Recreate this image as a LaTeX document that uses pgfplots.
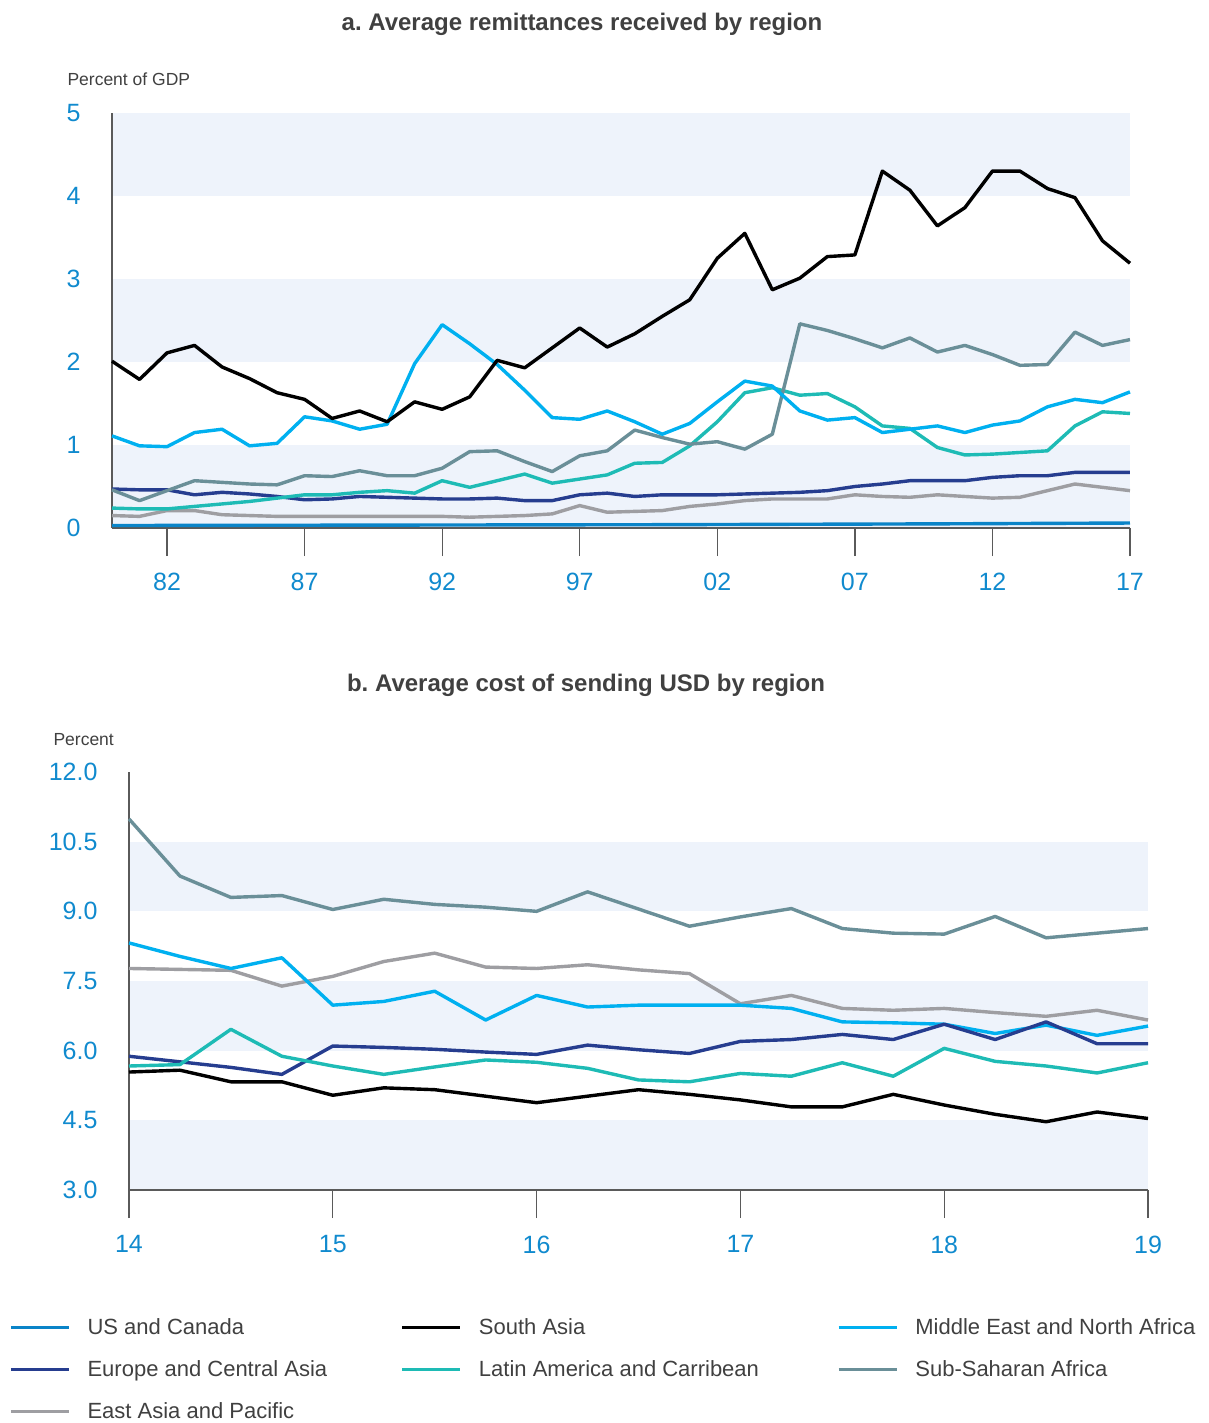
\documentclass[border=0pt]{standalone}
\usepackage{fontspec}
\setmainfont{Liberation Sans}
\usepackage{pgfplots}
\pgfplotsset{compat=1.18}
\pgfplotsset{set layers}
\frenchspacing

\definecolor{usc}{RGB}{10,132,200}
\definecolor{sas}{RGB}{0,0,0}
\definecolor{mena}{RGB}{0,176,240}
\definecolor{eca}{RGB}{38,61,143}
\definecolor{lac}{RGB}{30,187,181}
\definecolor{ssa}{RGB}{106,143,152}
\definecolor{eap}{RGB}{158,158,162}
\definecolor{band}{RGB}{238,243,251}
\definecolor{tickblue}{RGB}{16,138,206}
\definecolor{txt}{RGB}{64,64,64}
\definecolor{axgray}{RGB}{90,90,90}

\pgfplotsset{mystyle/.style={
  scale only axis,
  clip=false,
  axis x line=bottom, axis y line=left,
  axis line style={-, draw=axgray, line width=1.3pt},
  tick align=outside,
  major tick length=28pt,
  xtick style={draw=axgray, line width=1.3pt},
  ytick style={draw=none},
  tick label style={font=\fontsize{25}{30}\selectfont, color=tickblue},
  /pgf/number format/assume math mode=true,
  xticklabel style={yshift=-14pt},
  every axis plot/.append style={line width=3.4pt, line join=round, mark=none},
}}

\begin{document}
\begin{tikzpicture}

% titles and unit labels
\node[anchor=base, font=\bfseries\fontsize{24}{28}\selectfont, text=txt] at (582pt,-31pt) {a. Average remittances received by region};
\node[anchor=base west, font=\fontsize{17.5}{21}\selectfont, text=txt] at (64pt,-86pt) {Percent of GDP};
\node[anchor=base, font=\bfseries\fontsize{24}{28}\selectfont, text=txt] at (586pt,-691pt) {b. Average cost of sending USD by region};
\node[anchor=base west, font=\fontsize{17.5}{21}\selectfont, text=txt] at (50pt,-745pt) {Percent};

% ---------------- panel a ----------------
\begin{axis}[mystyle,
  at={(112pt,-528pt)}, anchor=south west,
  width=1018pt, height=415pt,
  xmin=1980, xmax=2017, ymin=0, ymax=5,
  xtick={1982,1987,1992,1997,2002,2007,2012,2017},
  xticklabels={82,87,92,97,02,07,12,17},
  ytick={0,1,2,3,4,5},
]
\begin{pgfonlayer}{axis background}
\fill[band] (axis cs:1980,0) rectangle (axis cs:2017,1);
\fill[band] (axis cs:1980,2) rectangle (axis cs:2017,3);
\fill[band] (axis cs:1980,4) rectangle (axis cs:2017,5);
\end{pgfonlayer}
% US and Canada
\addplot[usc] table {
1980 0.03
1990 0.035
2000 0.04
2010 0.05
2017 0.06
};
% East Asia and Pacific
\addplot[eap] table {
1980 0.15
1981 0.14
1982 0.21
1983 0.21
1984 0.16
1985 0.15
1986 0.14
1987 0.14
1988 0.14
1989 0.14
1990 0.14
1991 0.14
1992 0.14
1993 0.13
1994 0.14
1995 0.15
1996 0.17
1997 0.27
1998 0.19
1999 0.20
2000 0.21
2001 0.26
2002 0.29
2003 0.33
2004 0.35
2005 0.35
2006 0.35
2007 0.40
2008 0.38
2009 0.37
2010 0.40
2011 0.38
2012 0.36
2013 0.37
2014 0.45
2015 0.53
2016 0.49
2017 0.45
};
% Europe and Central Asia
\addplot[eca] table {
1980 0.47
1981 0.46
1982 0.46
1983 0.40
1984 0.43
1985 0.41
1986 0.38
1987 0.34
1988 0.35
1989 0.38
1990 0.37
1991 0.36
1992 0.35
1993 0.35
1994 0.36
1995 0.33
1996 0.33
1997 0.40
1998 0.42
1999 0.38
2000 0.40
2001 0.40
2002 0.40
2003 0.41
2004 0.42
2005 0.43
2006 0.45
2007 0.50
2008 0.53
2009 0.57
2010 0.57
2011 0.57
2012 0.61
2013 0.63
2014 0.63
2015 0.67
2016 0.67
2017 0.67
};
% Latin America and Carribean
\addplot[lac] table {
1980 0.24
1981 0.23
1982 0.23
1983 0.26
1984 0.29
1985 0.32
1986 0.36
1987 0.40
1988 0.40
1989 0.43
1990 0.45
1991 0.42
1992 0.57
1993 0.49
1994 0.57
1995 0.65
1996 0.54
1997 0.59
1998 0.64
1999 0.78
2000 0.79
2001 0.99
2002 1.28
2003 1.63
2004 1.69
2005 1.60
2006 1.62
2007 1.46
2008 1.23
2009 1.20
2010 0.97
2011 0.88
2012 0.89
2013 0.91
2014 0.93
2015 1.23
2016 1.40
2017 1.38
};
% Sub-Saharan Africa
\addplot[ssa] table {
1980 0.46
1981 0.33
1982 0.45
1983 0.57
1984 0.55
1985 0.53
1986 0.52
1987 0.63
1988 0.62
1989 0.69
1990 0.63
1991 0.63
1992 0.72
1993 0.92
1994 0.93
1995 0.80
1996 0.68
1997 0.87
1998 0.93
1999 1.18
2000 1.09
2001 1.01
2002 1.04
2003 0.95
2004 1.13
2005 2.46
2006 2.38
2007 2.28
2008 2.17
2009 2.29
2010 2.12
2011 2.20
2012 2.09
2013 1.96
2014 1.97
2015 2.36
2016 2.20
2017 2.27
};
% Middle East and North Africa
\addplot[mena] table {
1980 1.11
1981 0.99
1982 0.98
1983 1.15
1984 1.19
1985 0.99
1986 1.02
1987 1.34
1988 1.29
1989 1.19
1990 1.25
1991 1.98
1992 2.45
1993 2.22
1994 1.97
1995 1.66
1996 1.33
1997 1.31
1998 1.41
1999 1.28
2000 1.13
2001 1.26
2002 1.52
2003 1.77
2004 1.71
2005 1.41
2006 1.30
2007 1.33
2008 1.15
2009 1.19
2010 1.23
2011 1.15
2012 1.24
2013 1.29
2014 1.46
2015 1.55
2016 1.51
2017 1.64
};
% South Asia
\addplot[sas] table {
1980 2.01
1981 1.79
1982 2.11
1983 2.20
1984 1.94
1985 1.80
1986 1.63
1987 1.55
1988 1.32
1989 1.41
1990 1.28
1991 1.52
1992 1.43
1993 1.58
1994 2.02
1995 1.93
1996 2.17
1997 2.41
1998 2.18
1999 2.34
2000 2.55
2001 2.75
2002 3.25
2003 3.55
2004 2.87
2005 3.01
2006 3.27
2007 3.29
2008 4.30
2009 4.07
2010 3.64
2011 3.86
2012 4.30
2013 4.30
2014 4.09
2015 3.98
2016 3.46
2017 3.19
};
\end{axis}

% ---------------- panel b ----------------
\begin{axis}[mystyle,
  at={(129pt,-1190pt)}, anchor=south west,
  width=1019pt, height=418pt,
  xmin=14, xmax=19, ymin=3, ymax=12,
  xtick={14,15,16,17,18,19},
  ytick={3,4.5,6,7.5,9,10.5,12},
  yticklabel style={/pgf/number format/.cd, fixed, fixed zerofill, precision=1},
  legend columns=3,
  legend cell align=left,
  legend style={at={(-0.1178,-0.3038)}, anchor=north west, draw=none, fill=none,
    inner sep=0pt, row sep=22pt,
    font=\fontsize{22}{26}\selectfont, text=txt,
    nodes={inner sep=0pt, text height=17pt, text depth=3pt},
    /tikz/every odd column/.style={column sep=17pt},
    /tikz/every even column/.style={column sep=13pt}},
  legend image code/.code={\draw[#1] (0pt,0pt) -- (58pt,0pt);},
]
\begin{pgfonlayer}{axis background}
\fill[band] (axis cs:14,3) rectangle (axis cs:19,4.5);
\fill[band] (axis cs:14,6) rectangle (axis cs:19,7.5);
\fill[band] (axis cs:14,9) rectangle (axis cs:19,10.5);
\end{pgfonlayer}
\addlegendimage{usc, line width=3.4pt}
\addlegendentry{\makebox[300pt][l]{US and Canada}}
\addlegendimage{sas, line width=3.4pt}
\addlegendentry{\makebox[345pt][l]{South Asia}}
\addlegendimage{mena, line width=3.4pt}
\addlegendentry{Middle East and North Africa}
\addlegendimage{eca, line width=3.4pt}
\addlegendentry{\makebox[300pt][l]{Europe and Central Asia}}
\addlegendimage{lac, line width=3.4pt}
\addlegendentry{\makebox[345pt][l]{Latin America and Carribean}}
\addlegendimage{ssa, line width=3.4pt}
\addlegendentry{Sub-Saharan Africa}
\addlegendimage{eap, line width=3.4pt}
\addlegendentry{\makebox[300pt][l]{East Asia and Pacific}}

% Sub-Saharan Africa
\addplot[ssa, forget plot] table {
14.00 10.99
14.25 9.76
14.50 9.30
14.75 9.34
15.00 9.04
15.25 9.26
15.50 9.15
15.75 9.09
16.00 9.00
16.25 9.42
16.50 9.05
16.75 8.68
17.00 8.88
17.25 9.06
17.50 8.63
17.75 8.53
18.00 8.51
18.25 8.89
18.50 8.43
18.75 8.53
19.00 8.63
};
% East Asia and Pacific
\addplot[eap, forget plot] table {
14.00 7.77
14.25 7.75
14.50 7.73
14.75 7.39
15.00 7.60
15.25 7.92
15.50 8.10
15.75 7.80
16.00 7.77
16.25 7.85
16.50 7.74
16.75 7.66
17.00 7.01
17.25 7.19
17.50 6.91
17.75 6.87
18.00 6.91
18.25 6.82
18.50 6.74
18.75 6.87
19.00 6.66
};
% Middle East and North Africa
\addplot[mena, forget plot] table {
14.00 8.32
14.25 8.03
14.50 7.77
14.75 8.00
15.00 6.98
15.25 7.06
15.50 7.28
15.75 6.66
16.00 7.19
16.25 6.94
16.50 6.98
16.75 6.98
17.00 6.98
17.25 6.91
17.50 6.62
17.75 6.60
18.00 6.57
18.25 6.37
18.50 6.55
18.75 6.33
19.00 6.53
};
% Europe and Central Asia
\addplot[eca, forget plot] table {
14.00 5.88
14.25 5.76
14.50 5.64
14.75 5.49
15.00 6.10
15.25 6.07
15.50 6.03
15.75 5.97
16.00 5.92
16.25 6.12
16.50 6.02
16.75 5.94
17.00 6.20
17.25 6.24
17.50 6.35
17.75 6.24
18.00 6.57
18.25 6.24
18.50 6.62
18.75 6.15
19.00 6.15
};
% Latin America and Carribean
\addplot[lac, forget plot] table {
14.00 5.67
14.25 5.70
14.50 6.46
14.75 5.88
15.00 5.67
15.25 5.49
15.50 5.65
15.75 5.80
16.00 5.75
16.25 5.62
16.50 5.37
16.75 5.33
17.00 5.51
17.25 5.45
17.50 5.74
17.75 5.45
18.00 6.05
18.25 5.77
18.50 5.67
18.75 5.52
19.00 5.74
};
% South Asia
\addplot[sas, forget plot] table {
14.00 5.54
14.25 5.58
14.50 5.33
14.75 5.33
15.00 5.04
15.25 5.20
15.50 5.16
15.75 5.02
16.00 4.88
16.25 5.02
16.50 5.16
16.75 5.06
17.00 4.94
17.25 4.79
17.50 4.79
17.75 5.06
18.00 4.83
18.25 4.63
18.50 4.47
18.75 4.68
19.00 4.54
};
\end{axis}

\pgfresetboundingbox
\path (0pt,0pt) rectangle (1208pt,-1423pt);
\end{tikzpicture}
\end{document}
